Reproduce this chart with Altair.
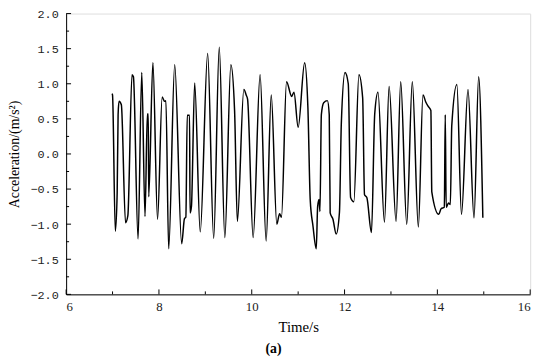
import altair as alt
import pandas as pd

time_s = [6.99, 7.00, 7.06, 7.10, 7.12, 7.14, 7.19, 7.28, 7.33, 7.42, 7.45, 7.55, 7.63, 7.70,
          7.75, 7.77, 7.78, 7.87, 7.97, 8.07, 8.12, 8.15, 8.21, 8.34, 8.49, 8.55, 8.58, 8.61,
          8.66, 8.67, 8.70, 8.77, 8.89, 9.05, 9.18, 9.30, 9.42, 9.55, 9.63, 9.69, 9.83, 9.88,
          9.91, 10.03, 10.18, 10.31, 10.42, 10.54, 10.60, 10.64, 10.75, 10.86, 10.91, 11.00,
          11.14, 11.21, 11.26, 11.32, 11.39, 11.42, 11.45, 11.47, 11.50, 11.55, 11.63, 11.67,
          11.69, 11.75, 11.82, 11.89, 11.93, 12.01, 12.08, 12.13, 12.20, 12.31, 12.39, 12.43,
          12.48, 12.58, 12.65, 12.72, 12.86, 12.96, 13.11, 13.21, 13.34, 13.46, 13.59, 13.69,
          13.75, 13.80, 13.86, 13.88, 14.03, 14.08, 14.15, 14.17, 14.19, 14.24, 14.28, 14.31,
          14.42, 14.52, 14.66, 14.79, 14.89, 14.98]
accel = [0.86, 0.84, -1.10, -0.55, 0.56, 0.75, 0.70, -0.98, -0.88, 1.13, 1.10, -1.21, 1.16, -0.89,
         0.57, 0.57, -0.61, 1.30, -0.93, 0.81, 0.75, 0.76, -1.35, 1.27, -1.28, -0.92, -0.90, 0.55,
         0.55, -0.84, -0.75, 1.01, -1.11, 1.43, -1.20, 1.52, -1.19, 1.27, 0.62, -0.96, 0.92, 0.84,
         0.78, -1.19, 1.13, -1.24, 0.84, -1.00, -0.85, -0.90, 1.03, 0.82, 0.88, 0.38,
         1.30, 0.66, -0.65, -1.03, -1.35, -0.75, -0.65, -0.82, 0.56, 0.73, 0.76, 0.56,
         -0.84, -0.93, -1.14, -0.83, 0.43, 1.16, 1.00, -0.62, -0.68, 1.13, 0.80, -0.58,
         -0.62, -1.12, 0.57, 0.88, -0.97, 0.96, -0.96, 1.03, -1.00, 1.03, -1.04, 0.84,
         0.74, 0.68, 0.62, -0.54, -0.86, -0.78, -0.76, 0.56, -0.76, -0.70, -0.72, 0.40,
         0.99, -0.86, 0.92, -0.91, 1.10, -0.91]

x_major = [6, 8, 10, 12, 14, 16]
x_minor = [7, 9, 11, 13, 15]
y_major = [-2.0, -1.5, -1.0, -0.5, 0.0, 0.5, 1.0, 1.5, 2.0]
y_minor = [-1.75, -1.25, -0.75, -0.25, 0.25, 0.75, 1.25, 1.75]

W, H = 471, 285

df = pd.DataFrame({"t": time_s, "a": accel})
xs = alt.Scale(domain=[6, 16], nice=False, zero=False)
ys = alt.Scale(domain=[-2, 2], nice=False, zero=False)

x_axis = alt.Axis(
    values=x_major, title="Time/s", ticks=False, grid=False, domainColor="black",
    labelFont="Liberation Serif", labelFontSize=13, labelColor="#222", labelPadding=6,
    titleFont="Liberation Serif", titleFontSize=15, titleFontWeight="normal",
    titleColor="black", titlePadding=7)
y_axis = alt.Axis(
    values=y_major, format=".1f", title="Acceleration/(m/s²)", ticks=False, grid=False,
    domainColor="black", labelFont="Liberation Mono", labelFontSize=12, labelColor="#222",
    labelPadding=8, titleFont="Liberation Serif", titleFontSize=14,
    titleFontWeight="normal", titleColor="black", titlePadding=9)

line = alt.Chart(df).mark_line(color="black", strokeWidth=1.5, interpolate="monotone").encode(
    x=alt.X("t:Q", scale=xs, axis=x_axis),
    y=alt.Y("a:Q", scale=ys, axis=y_axis),
)

xmaj = alt.Chart(pd.DataFrame({"t": x_major})).mark_rule(color="black", strokeWidth=1).encode(
    x=alt.X("t:Q", scale=xs, axis=x_axis), y=alt.value(H), y2=alt.value(H - 5))
xmin = alt.Chart(pd.DataFrame({"t": x_minor})).mark_rule(color="black", strokeWidth=1).encode(
    x=alt.X("t:Q", scale=xs, axis=x_axis), y=alt.value(H), y2=alt.value(H - 3))
ymaj = alt.Chart(pd.DataFrame({"a": y_major})).mark_rule(color="black", strokeWidth=1).encode(
    y=alt.Y("a:Q", scale=ys, axis=y_axis), x=alt.value(0), x2=alt.value(5))
ymin = alt.Chart(pd.DataFrame({"a": y_minor})).mark_rule(color="black", strokeWidth=1).encode(
    y=alt.Y("a:Q", scale=ys, axis=y_axis), x=alt.value(0), x2=alt.value(3))

chart = alt.layer(line, xmaj, xmin, ymaj, ymin).properties(
    width=W, height=H,
    title=alt.TitleParams("(a)", orient="bottom", anchor="middle", font="Liberation Serif",
                          fontSize=14, fontWeight="bold", color="black", dx=-25, offset=8),
    padding={"left": 59, "top": 3, "right": 12, "bottom": 66},
    autosize=alt.AutoSizeParams(type="none"),
).configure_view(stroke="black", strokeWidth=1).configure(background="white")

chart.save("out.html", embed_options={"renderer": "svg", "actions": False})
